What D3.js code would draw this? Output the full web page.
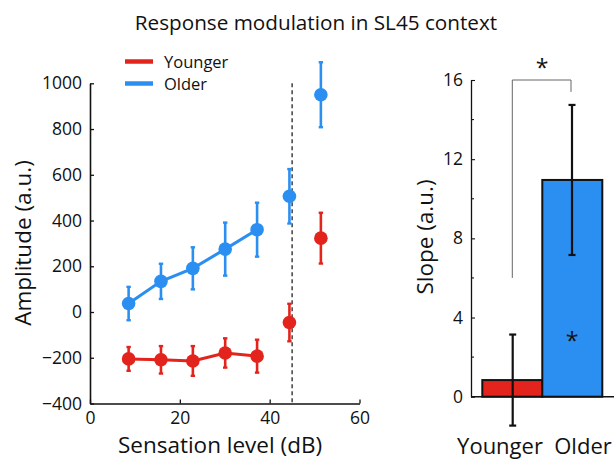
<!DOCTYPE html>
<html><head><meta charset="utf-8">
<script src="https://cdn.jsdelivr.net/npm/d3@7"></script>
<style>
body{margin:0;background:#fff;}
svg text{font-family:"Open Sans",sans-serif;fill:#111;}
</style></head>
<body><svg id="c" width="614" height="460"></svg>
<script>
// ---- data ----
const sensationLevels = [8.6, 15.8, 22.9, 30.1, 37.2, 44.4, 51.4];
const youngerAmp = [-205, -209, -214, -179, -193, -46, 323];
const youngerErr = [52, 60, 65, 64, 72, 82, 111];
const olderAmp = [37, 134, 191, 275, 360, 506, 950];
const olderErr = [73, 77, 92, 116, 118, 119, 142];
const fitCount = 5; // first five points joined by a line
const contextLevel = 45;
const xTicks = [0, 20, 40, 60];
const yTicks = [-400, -200, 0, 200, 400, 600, 800, 1000];
const groups = ["Younger", "Older"];
const slopeValues = [0.84, 10.95];
const slopeErr = [2.3, 3.79];
const slopeTicks = [0, 4, 8, 12, 16];
const slopeMinorTicks = [2, 6, 10, 14];

const RED = "#e3241d", BLUE = "#2b8ff2";
const svg = d3.select("#c");

// title
svg.append("text").attr("x", 316).attr("y", 30).attr("text-anchor", "middle")
  .style("font-size", "20.7px").text("Response modulation in SL45 context");

// ---- left panel ----
const x = d3.scaleLinear().domain([0, 60]).range([90, 359.5]);
const y = d3.scaleLinear().domain([-400, 1000]).range([403.5, 83.3]);
const fmt = d => d < 0 ? "\u2212" + Math.abs(d) : String(d);

const gx = svg.append("g").attr("transform", `translate(0,${y(-400)})`)
  .call(d3.axisBottom(x).tickValues(xTicks).tickSizeInner(-4).tickSizeOuter(0).tickPadding(8));
const gy = svg.append("g").attr("transform", `translate(${x(0)},0)`)
  .call(d3.axisLeft(y).tickValues(yTicks).tickFormat(fmt).tickSizeInner(-4).tickSizeOuter(0).tickPadding(8));
[gx, gy].forEach(g => {
  g.select(".domain").attr("stroke", "#111").attr("stroke-width", 1.6);
  g.selectAll(".tick line").attr("stroke", "#111").attr("stroke-width", 1.3);
  g.selectAll("text").style("font-size", "17.5px").style("font-family", '"Open Sans",sans-serif').attr("fill", "#111");
});

// dashed context line
svg.append("line").attr("x1", x(contextLevel)).attr("x2", x(contextLevel))
  .attr("y1", y(1000)).attr("y2", y(-400)).attr("stroke", "#333").attr("stroke-width", 1.4)
  .attr("stroke-dasharray", "4,3");

function series(vals, errs, color) {
  const pts = sensationLevels.map((s, i) => ({ s, v: vals[i], e: errs[i] }));
  const g = svg.append("g");
  g.append("path").datum(pts.slice(0, fitCount))
    .attr("d", d3.line().x(d => x(d.s)).y(d => y(d.v)))
    .attr("fill", "none").attr("stroke", color).attr("stroke-width", 3);
  const eb = g.selectAll(".eb").data(pts).join("g");
  eb.append("line").attr("x1", d => x(d.s)).attr("x2", d => x(d.s))
    .attr("y1", d => y(d.v + d.e)).attr("y2", d => y(d.v - d.e))
    .attr("stroke", color).attr("stroke-width", 2.6);
  [1, -1].forEach(sg => eb.append("line")
    .attr("x1", d => x(d.s) - 2.2).attr("x2", d => x(d.s) + 2.2)
    .attr("y1", d => y(d.v + sg * d.e)).attr("y2", d => y(d.v + sg * d.e))
    .attr("stroke", color).attr("stroke-width", 2.4));
  g.selectAll("circle").data(pts).join("circle")
    .attr("cx", d => x(d.s)).attr("cy", d => y(d.v)).attr("r", 6.8).attr("fill", color);
}
series(youngerAmp, youngerErr, RED);
series(olderAmp, olderErr, BLUE);

// legend
[["Younger", RED, 61.5], ["Older", BLUE, 83.5]].forEach(([t, c, yy]) => {
  svg.append("line").attr("x1", 125).attr("x2", 153).attr("y1", yy).attr("y2", yy)
    .attr("stroke", c).attr("stroke-width", 4.5);
  svg.append("text").attr("x", 164).attr("y", yy + 6.5).style("font-size", "16.5px").text(t);
});

// axis titles
svg.append("text").attr("transform", "translate(31,243) rotate(-90)").attr("text-anchor", "middle")
  .style("font-size", "22.5px").text("Amplitude (a.u.)");
svg.append("text").attr("x", 220).attr("y", 453).attr("text-anchor", "middle")
  .style("font-size", "22.5px").text("Sensation level (dB)");

// ---- right panel ----
const xb = d3.scaleBand().domain(groups).range([482.3, 602.3]).padding(0);
const yb = d3.scaleLinear().domain([0, 16]).range([396.7, 80]);

const gyb = svg.append("g").attr("transform", "translate(471,0)")
  .call(d3.axisLeft(yb).tickValues(slopeTicks).tickSizeInner(-4).tickSizeOuter(0).tickPadding(8));
gyb.select(".domain").attr("stroke", "#111").attr("stroke-width", 1.3);
gyb.selectAll(".tick line").attr("stroke", "#111").attr("stroke-width", 1.1);
gyb.selectAll("text").style("font-size", "17.5px").style("font-family", '"Open Sans",sans-serif').attr("fill", "#111");
svg.append("g").selectAll("line").data(slopeMinorTicks).join("line")
  .attr("x1", 471).attr("x2", 474).attr("y1", d => yb(d)).attr("y2", d => yb(d))
  .attr("stroke", "#111").attr("stroke-width", 1.1);

svg.append("g").selectAll("rect").data(groups).join("rect")
  .attr("x", d => xb(d)).attr("width", xb.bandwidth())
  .attr("y", (d, i) => yb(slopeValues[i])).attr("height", (d, i) => yb(0) - yb(slopeValues[i]))
  .attr("fill", (d, i) => i ? BLUE : RED).attr("stroke", "#111").attr("stroke-width", 2);

// baseline
svg.append("line").attr("x1", 471).attr("x2", 614).attr("y1", yb(0)).attr("y2", yb(0))
  .attr("stroke", "#111").attr("stroke-width", 1.4);

// error bars
const ebx = [512.7, 572];
groups.forEach((gname, i) => {
  const cx = ebx[i], v = slopeValues[i], e = slopeErr[i];
  svg.append("line").attr("x1", cx).attr("x2", cx).attr("y1", yb(v + e)).attr("y2", yb(v - e))
    .attr("stroke", "#111").attr("stroke-width", 2.2);
  [1, -1].forEach(sg => svg.append("line").attr("x1", cx - 3.5).attr("x2", cx + 3.5)
    .attr("y1", yb(v + sg * e)).attr("y2", yb(v + sg * e)).attr("stroke", "#111").attr("stroke-width", 2.2));
});

// significance bracket
svg.append("path").attr("d", `M${512.3},${yb(6)}V${yb(16)}H${571}V${yb(15.4)}`)
  .attr("fill", "none").attr("stroke", "#666").attr("stroke-width", 1);
svg.append("text").attr("x", 542).attr("y", 76).attr("text-anchor", "middle").style("font-size", "23px").text("*");
svg.append("text").attr("x", 572).attr("y", 349).attr("text-anchor", "middle").style("font-size", "23px").text("*");

svg.append("text").attr("transform", "translate(433,237) rotate(-90)").attr("text-anchor", "middle")
  .style("font-size", "22.5px").text("Slope (a.u.)");
svg.append("text").attr("x", 500).attr("y", 454).attr("text-anchor", "middle").style("font-size", "22px").text("Younger");
svg.append("text").attr("x", 583).attr("y", 454).attr("text-anchor", "middle").style("font-size", "22px").text("Older");
</script></body></html>
